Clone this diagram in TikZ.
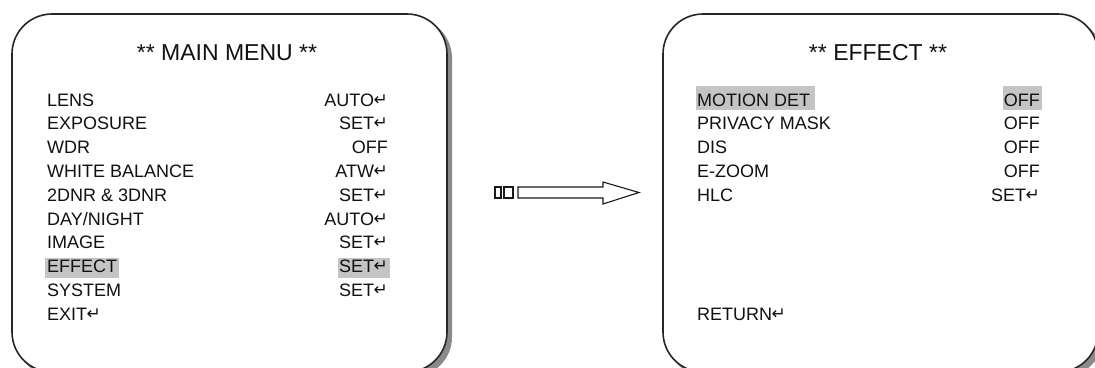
\documentclass[tikz,border=0pt]{standalone}
\usepackage{fontspec}
\setmainfont{Liberation Sans}
\newfontfamily\symfont{DejaVu Sans}
\newcommand{\entersym}{{\symfont\fontsize{17}{17}\selectfont\raisebox{1pt}{\kern-0.5pt↵}}}
\definecolor{txt}{HTML}{111111}
\definecolor{hl}{HTML}{C4C4C4}
\definecolor{shadowgray}{HTML}{8A8A8A}
\tikzset{
  screen/.style={draw=black!85, line width=1.6pt, fill=white, rounded corners=40pt},
  screenshadow/.style={fill=shadowgray, rounded corners=40pt},
  item/.style={inner sep=0pt, text=txt, font=\fontsize{18}{20}\selectfont},
  ttl/.style={inner sep=0pt, text=txt, font=\fontsize{23}{26}\selectfont},
  hlbox/.style={fill=hl, draw=none},
  arrowline/.style={draw=black!90, line width=1.1pt, fill=white, line join=miter}
}
\begin{document}
\begin{tikzpicture}[x=1pt,y=-1pt]
\useasboundingbox (0,0) rectangle (1095,367);
\clip (0,0) rectangle (1095,367);

% left screen
\fill[screenshadow] (16,18) rectangle (452,377);
\draw[screen] (12,14) rectangle (447,372);
% right screen
\fill[screenshadow] (667,18) rectangle (1103,377);
\draw[screen] (663,14) rectangle (1098,372);

% highlights
\fill[hlbox] (45,258) rectangle (119,278);
\fill[hlbox] (338,258) rectangle (390,278);
\fill[hlbox] (696,86) rectangle (815,110);
\fill[hlbox] (1003,86) rectangle (1042,110);

% titles
\node[ttl, anchor=base] (t1) at (227,60) {** MAIN MENU **};
\node[ttl, anchor=base] (t2) at (878,60) {** EFFECT **};

% left menu
\foreach \name/\val [count=\i from 0] in {LENS/AUTO\entersym, EXPOSURE/SET\entersym, WDR/OFF, WHITE BALANCE/ATW\entersym, 2DNR \& 3DNR/SET\entersym, DAY\slash NIGHT/AUTO\entersym, IMAGE/SET\entersym, EFFECT/SET\entersym, SYSTEM/SET\entersym}{
  \node[item, anchor=base west] (ln\i) at (47,{106+23.8*\i}) {\name};
  \node[item, anchor=base east] (lv\i) at (388,{106+23.8*\i}) {\val};
}
\node[item, anchor=base west] (lexit) at (47,320) {EXIT\entersym};

% right menu
\foreach \name/\val [count=\i from 0] in {MOTION DET/OFF, PRIVACY MASK/OFF, DIS/OFF, E-ZOOM/OFF, HLC/SET\entersym}{
  \node[item, anchor=base west] (rn\i) at (697,{106+23.8*\i}) {\name};
  \node[item, anchor=base east] (rv\i) at (1040,{106+23.8*\i}) {\val};
}
\node[item, anchor=base west] (rret) at (697,320) {RETURN\entersym};

% arrow between screens
\draw[arrowline] (495,187) rectangle (501,198);
\draw[arrowline] (504,187) rectangle (513,198);
\draw[arrowline] (518,187) -- (603,187) -- (603,182) -- (639,192.5) -- (603,204) -- (603,198) -- (518,198) -- cycle;
\end{tikzpicture}
\end{document}
